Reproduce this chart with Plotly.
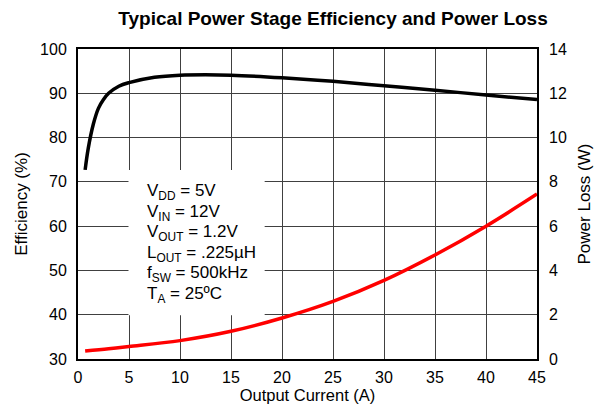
import plotly.graph_objects as go

# Efficiency data (%)
eff_current = [0.7, 1.0, 1.5, 2.0, 2.5, 3.0, 4.0, 5.0, 7.5, 10, 12.5, 15, 20, 25, 30, 35, 40, 45]
efficiency = [72.7, 77.5, 83.0, 86.6, 88.6, 90.0, 91.6, 92.4, 93.6, 94.1, 94.2, 94.1, 93.5, 92.7, 91.7, 90.7, 89.6, 88.6]

# Power loss data (W)
loss_current = [0.7, 3, 5, 10, 15, 20, 25, 30, 35, 40, 45]
power_loss = [0.36, 0.46, 0.56, 0.83, 1.25, 1.85, 2.6, 3.55, 4.7, 6.0, 7.45]

x_ticks = [0, 5, 10, 15, 20, 25, 30, 35, 40, 45]
eff_ticks = [30, 40, 50, 60, 70, 80, 90, 100]
loss_ticks = [0, 2, 4, 6, 8, 10, 12, 14]

condition_lines = ["V<sub>DD</sub> = 5V", "V<sub>IN</sub> = 12V", "V<sub>OUT</sub> = 1.2V",
                   "L<sub>OUT</sub> = .225µH", "f<sub>SW</sub> = 500kHz", "T<sub>A</sub> = 25ºC"]

FONT = "Liberation Sans, Arial, sans-serif"

fig = go.Figure()
fig.add_trace(go.Scatter(x=eff_current, y=efficiency, mode="lines",
                         line=dict(color="black", width=3.5, shape="spline"),
                         showlegend=False))
fig.add_trace(go.Scatter(x=loss_current, y=power_loss, mode="lines", yaxis="y2",
                         line=dict(color="#ff0000", width=3.5, shape="spline"),
                         showlegend=False))

fig.add_shape(type="rect", xref="x", yref="y", x0=4.95, x1=18.3, y0=39.9, y1=72.7,
              fillcolor="white", line=dict(width=0), layer="between")

# condition text lines, stacked inside the box (pixel step ~20.6 px = 4.65 %)
for i, txt in enumerate(condition_lines):
    fig.add_annotation(text=txt, xref="x", yref="y", x=6.6, y=67.7 - i * 4.65,
                       xanchor="left", yanchor="middle", align="left", showarrow=False,
                       font=dict(family=FONT, size=17, color="black"))

fig.update_layout(
    width=610, height=406,
    margin=dict(l=78, r=73, t=49, b=47),
    paper_bgcolor="white", plot_bgcolor="white",
    font=dict(family=FONT, size=16, color="black"),
    title=dict(text="<b>Typical Power Stage Efficiency and Power Loss</b>",
               x=0.546, xref="container", xanchor="center",
               y=0.955, yref="container", yanchor="middle",
               font=dict(family=FONT, size=19, color="black")),
    xaxis=dict(range=[0, 45], tickvals=x_ticks, showgrid=True, gridcolor="#404040",
               gridwidth=1, showline=True, linecolor="black", linewidth=2, mirror=True,
               zeroline=False, ticks="", automargin=False, ticklabelstandoff=3,
               title=dict(text="Output Current (A)", standoff=3, font=dict(size=16.5))),
    yaxis=dict(range=[30, 100], tickvals=eff_ticks, showgrid=True, gridcolor="#404040",
               gridwidth=1, showline=True, linecolor="black", linewidth=2, mirror=True,
               zeroline=False, ticks="", automargin=False, ticklabelstandoff=6,
               title=dict(text="Efficiency (%)", standoff=8, font=dict(size=17))),
    yaxis2=dict(range=[0, 14], tickvals=loss_ticks, overlaying="y", side="right",
                showgrid=False, showline=False, zeroline=False, ticks="", automargin=False,
                ticklabelstandoff=11,
                title=dict(text="Power Loss (W)", standoff=12, font=dict(size=17))),
)

fig.write_html("out.html", post_script="document.body.style.margin='0';",
               config={"displayModeBar": False})
